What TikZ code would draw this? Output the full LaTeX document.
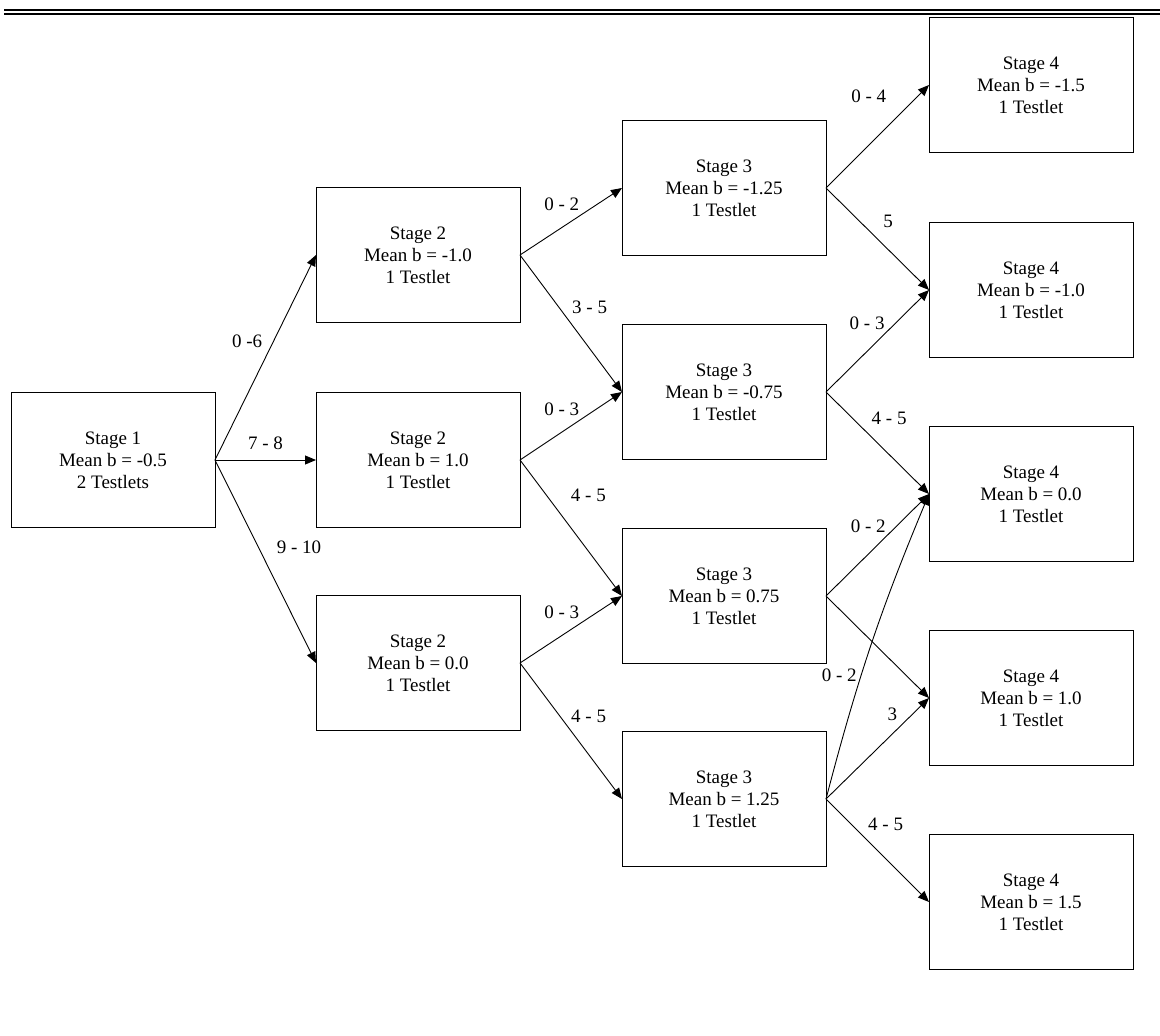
\documentclass[tikz,border=0pt]{standalone}
\usepackage{fontspec}
\setmainfont{Liberation Serif}
\usepackage{tikz}
\usetikzlibrary{arrows.meta,positioning}

\begin{document}
\begin{tikzpicture}[
    x=1pt, y=-1pt,
    stage/.style={draw, line width=1pt, minimum width=204pt, minimum height=135pt, outer sep=0pt, align=center, font=\fontsize{19}{22}\selectfont},
    arr/.style={-{Triangle[length=11pt,width=9pt]}, line width=0.9pt},
    lbl/.style={font=\fontsize{19}{22}\selectfont, inner sep=1pt}
]
\useasboundingbox (0,0) rectangle (1160,1036);

% Double rule at the top
\draw[line width=2.5pt] (4,10.2) -- (1160,10.2);
\draw[line width=2pt] (4,14) -- (1160,14);

% Stage 1
\node[stage] (s1) at (113,460) {Stage 1\\Mean b = -0.5\\2 Testlets};

% Stage 2
\node[stage] (s2a) at (418,255) {Stage 2\\Mean b = -1.0\\1 Testlet};
\node[stage] (s2b) at (418,460) {Stage 2\\Mean b = 1.0\\1 Testlet};
\node[stage] (s2c) at (418,663) {Stage 2\\Mean b = 0.0\\1 Testlet};

% Stage 3
\node[stage] (s3a) at (724,188) {Stage 3\\Mean b = -1.25\\1 Testlet};
\node[stage] (s3b) at (724,392) {Stage 3\\Mean b = -0.75\\1 Testlet};
\node[stage] (s3c) at (724,596) {Stage 3\\Mean b = 0.75\\1 Testlet};
\node[stage] (s3d) at (724,799) {Stage 3\\Mean b = 1.25\\1 Testlet};

% Stage 4
\node[stage] (s4a) at (1031,85) {Stage 4\\Mean b = -1.5\\1 Testlet};
\node[stage] (s4b) at (1031,290) {Stage 4\\Mean b = -1.0\\1 Testlet};
\node[stage] (s4c) at (1031,494) {Stage 4\\Mean b = 0.0\\1 Testlet};
\node[stage] (s4d) at (1031,698) {Stage 4\\Mean b = 1.0\\1 Testlet};
\node[stage] (s4e) at (1031,902) {Stage 4\\Mean b = 1.5\\1 Testlet};

% Stage 1 -> Stage 2
\draw[arr] (s1.east) -- node[lbl, pos=.58, left=10pt] {0 -6} (s2a.west);
\draw[arr] (s1.east) -- node[lbl, pos=.5, above=9pt] {7 - 8} (s2b.west);
\draw[arr] (s1.east) -- node[lbl, pos=.43, right=17pt] {9 - 10} (s2c.west);

% Stage 2 -> Stage 3
\draw[arr] (s2a.east) -- node[lbl, pos=.41, above=15pt] {0 - 2} (s3a.west);
\draw[arr] (s2a.east) -- node[lbl, pos=.38, right=12pt] {3 - 5} (s3b.west);
\draw[arr] (s2b.east) -- node[lbl, pos=.41, above=15pt] {0 - 3} (s3b.west);
\draw[arr] (s2b.east) -- node[lbl, pos=.26, right=23pt] {4 - 5} (s3c.west);
\draw[arr] (s2c.east) -- node[lbl, pos=.41, above=15pt] {0 - 3} (s3c.west);
\draw[arr] (s2c.east) -- node[lbl, pos=.39, right=10pt] {4 - 5} (s3d.west);

% Stage 3 -> Stage 4
\draw[arr] (s3a.east) -- node[lbl, pos=.89, left=30pt] {0 - 4} (s4a.west);
\draw[arr] (s3a.east) -- node[lbl, pos=.33, right=22pt] {5} (s4b.west);
\draw[arr] (s3b.east) -- node[lbl, pos=.67, left=9pt] {0 - 3} (s4b.west);
\draw[arr] (s3b.east) -- node[lbl, pos=.255, right=18pt] {4 - 5} (s4c.west);
\draw[arr] (s3c.east) -- node[lbl, pos=.68, left=9pt] {0 - 2} (s4c.west);
\draw[arr] (s3c.east) -- (s4d.west);
\draw[arr] (s3d.east) to[bend left=4] node[lbl, pos=.39, left=3pt] {0 - 2} (s4c.west);
\draw[arr] (s3d.east) -- node[lbl, pos=.84, left=14pt] {3} (s4d.west);
\draw[arr] (s3d.east) -- node[lbl, pos=.25, right=15pt] {4 - 5} (s4e.west);
\end{tikzpicture}
\end{document}
